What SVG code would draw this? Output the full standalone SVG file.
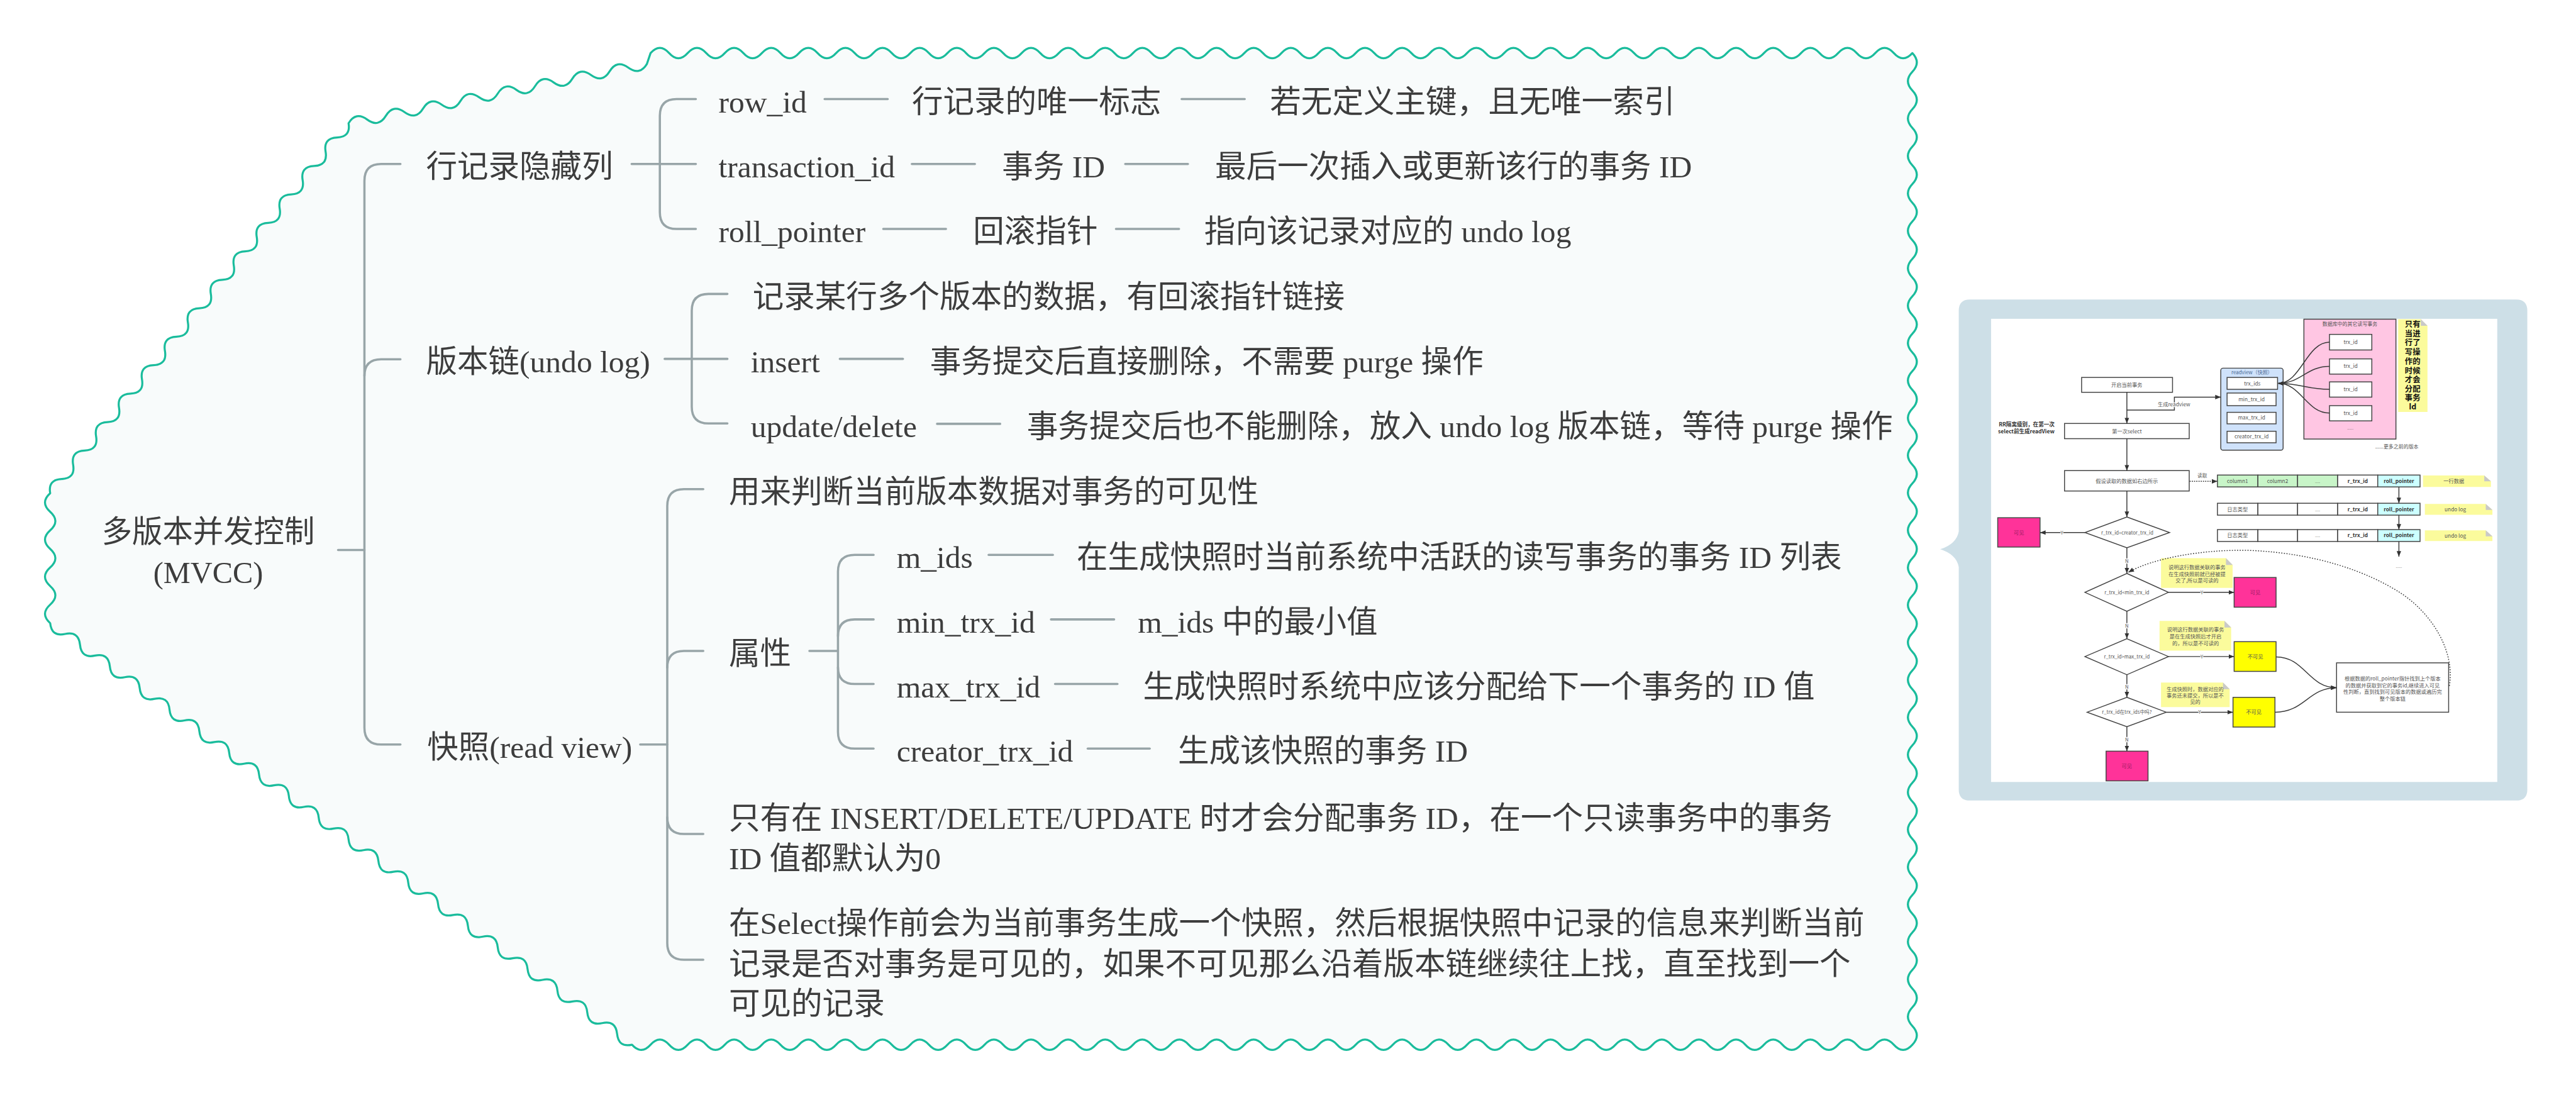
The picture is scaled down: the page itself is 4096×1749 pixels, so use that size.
<svg xmlns="http://www.w3.org/2000/svg" width="4096" height="1749" viewBox="0 0 4096 1749">
<defs>
<style>
.mm{font-family:"Liberation Serif","Noto Sans CJK SC",serif;font-size:84px;fill:#3d3d3d}
.root{font-size:82px}
.cn{fill:none;stroke:#98a5a8;stroke-width:6;stroke-linecap:round}
.fc{font-family:"Noto Sans CJK SC","Liberation Sans",sans-serif;font-size:14px;fill:#555;text-anchor:middle}
.fb{font-weight:bold;fill:#333}
.ln{fill:none;stroke:#3a3a3a;stroke-width:2.5}
.bx{stroke:#444;stroke-width:2.5}
.lab{font-family:"Noto Sans CJK SC",sans-serif;font-size:13px;fill:#555;text-anchor:middle;paint-order:stroke;stroke:#fff;stroke-width:4px}
.note{fill:#fbfb9c}
.fold{fill:#c9c9c9}
</style>
<marker id="ah" viewBox="0 0 10 10" refX="10" refY="5" markerWidth="15" markerHeight="15" markerUnits="userSpaceOnUse" orient="auto"><path d="M0,1 L10,5 L0,9 z" fill="#333"/></marker>
</defs>
<rect width="4096" height="1749" fill="#fff"/>
<g transform="scale(0.5901)">
<g id="frame">
<path fill="#f8fbfb" stroke="#1abc9c" stroke-width="5.5" stroke-linejoin="round" d="M1753,143 q25,-28 50,0 t50,0 t50,0 t50,0 t50,0 t50,0 t50,0 t50,0 t50,0 t50,0 t50,0 t50,0 t50,0 t50,0 t50,0 t50,0 t50,0 t50,0 t50,0 t50,0 t50,0 t50,0 t50,0 t50,0 t50,0 t50,0 t50,0 t50,0 t50,0 t50,0 t50,0 t50,0 t50,0 t50,0 t50,0 t50,0 t50,0 t50,0 t50,0 t50,0 t50,0 t50,0 t50,0 t50,0 t50,0 t50,0 t50,0 t50,0 t50,0 t50,0 t50,0 t50,0 t50,0 t50,0 t50,0 t50,0 t50,0 t50,0 t50,0 t50,0 t50,0 t50,0 t50,0 t50,0 t50,0 t50,0 t50,0 t50,0
q24,25.2075 0,50.415 t0,50.415 t0,50.415 t0,50.415 t0,50.415 t0,50.415 t0,50.415 t0,50.415 t0,50.415 t0,50.415 t0,50.415 t0,50.415 t0,50.415 t0,50.415 t0,50.415 t0,50.415 t0,50.415 t0,50.415 t0,50.415 t0,50.415 t0,50.415 t0,50.415 t0,50.415 t0,50.415 t0,50.415 t0,50.415 t0,50.415 t0,50.415 t0,50.415 t0,50.415 t0,50.415 t0,50.415 t0,50.415 t0,50.415 t0,50.415 t0,50.415 t0,50.415 t0,50.415 t0,50.415 t0,50.415 t0,50.415 t0,50.415 t0,50.415 t0,50.415 t0,50.415 t0,50.415 t0,50.415 t0,50.415 t0,50.415 t0,50.415 t0,50.415 t0,50.415 t0,50.415
q-25,28 -50,0 t-50,0 t-50,0 t-50,0 t-50,0 t-50,0 t-50,0 t-50,0 t-50,0 t-50,0 t-50,0 t-50,0 t-50,0 t-50,0 t-50,0 t-50,0 t-50,0 t-50,0 t-50,0 t-50,0 t-50,0 t-50,0 t-50,0 t-50,0 t-50,0 t-50,0 t-50,0 t-50,0 t-50,0 t-50,0 t-50,0 t-50,0 t-50,0 t-50,0 t-50,0 t-50,0 t-50,0 t-50,0 t-50,0 t-50,0 t-50,0 t-50,0 t-50,0 t-50,0 t-50,0 t-50,0 t-50,0 t-50,0 t-50,0 t-50,0 t-50,0 t-50,0 t-50,0 t-50,0 t-50,0 t-50,0 t-50,0 t-50,0 t-50,0 t-50,0 t-50,0 t-50,0 t-50,0 t-50,0 t-50,0 t-50,0 t-50,0 t-50,0 t-50,0
q-36.53,8.11 -40.2,-29.125 t-40.2,-29.125 t-40.2,-29.125 t-40.2,-29.125 t-40.2,-29.125 t-40.2,-29.125 t-40.2,-29.125 t-40.2,-29.125 t-40.2,-29.125 t-40.2,-29.125 t-40.2,-29.125 t-40.2,-29.125 t-40.2,-29.125 t-40.2,-29.125 t-40.2,-29.125 t-40.2,-29.125 t-40.2,-29.125 t-40.2,-29.125 t-40.2,-29.125 t-40.2,-29.125 t-40.2,-29.125 t-40.2,-29.125 t-40.2,-29.125 t-40.2,-29.125 t-40.2,-29.125 t-40.2,-29.125 t-40.2,-29.125 t-40.2,-29.125 t-40.2,-29.125 t-40.2,-29.125 t-40.2,-29.125 t-40.2,-29.125 t-40.2,-29.125 t-40.2,-29.125 t-40.2,-29.125 t-40.2,-29.125 t-40.2,-29.125 t-40.2,-29.125 t-40.2,-29.125
q-28,-25 0,-50 t0,-50 t0,-50 t0,-50 t0,-50 t0,-50 t0,-50
q-6.34,-36.75 30.923,-38.346 t30.923,-38.346 t30.923,-38.346 t30.923,-38.346 t30.923,-38.346 t30.923,-38.346 t30.923,-38.346 t30.923,-38.346 t30.923,-38.346 t30.923,-38.346 t30.923,-38.346 t30.923,-38.346 t30.923,-38.346 t30.923,-38.346 t30.923,-38.346 t30.923,-38.346 t30.923,-38.346 t30.923,-38.346 t30.923,-38.346 t30.923,-38.346 t30.923,-38.346 t30.923,-38.346 t30.923,-38.346 t30.923,-38.346 t30.923,-38.346 t30.923,-38.346
q19.66,-32.46 50.25,-10 t50.25,-10 t50.25,-10 t50.25,-10 t50.25,-10 t50.25,-10 t50.25,-10 t50.25,-10 t50.25,-10 t50.25,-10 t50.25,-10 t50.25,-10 t50.25,-10 t50.25,-10 t50.25,-10 t50.25,-10 Z"/>
</g>
<g id="connectors">
<path class="cn" d="M911,1482 H982"/>
<path class="cn" d="M1079,442 H1027 Q982,442 982,487 V1961 Q982,2006 1027,2006 H1079"/>
<path class="cn" d="M982,1013 Q982,968 1027,968 H1079"/>
<path class="cn" d="M1702,442 H1875"/>
<path class="cn" d="M1875,267 H1823 Q1778,267 1778,312 V572 Q1778,617 1823,617 H1875"/>
<path class="cn" d="M1791,967 H1960"/>
<path class="cn" d="M1960,792 H1909 Q1864,792 1864,837 V1096 Q1864,1141 1909,1141 H1960"/>
<path class="cn" d="M1725,2006 H1798"/>
<path class="cn" d="M1895,1318 H1843 Q1798,1318 1798,1363 V2541 Q1798,2586 1843,2586 H1895"/>
<path class="cn" d="M1798,1799 Q1798,1754 1843,1754 H1895"/>
<path class="cn" d="M1798,2202 Q1798,2247 1843,2247 H1895"/>
<path class="cn" d="M2181,1754 H2258"/>
<path class="cn" d="M2354,1495 H2303 Q2258,1495 2258,1540 V1972 Q2258,2017 2303,2017 H2354"/>
<path class="cn" d="M2258,1714 Q2258,1669 2303,1669 H2354"/>
<path class="cn" d="M2258,1798 Q2258,1843 2303,1843 H2354"/>
<path class="cn" d="M2222,267 H2392 M3184,267 H3354"/>
<path class="cn" d="M2457,442 H2627 M3032,442 H3201"/>
<path class="cn" d="M2380,617 H2549 M3007,617 H3177"/>
<path class="cn" d="M2263,967 H2433"/>
<path class="cn" d="M2525,1142 H2695"/>
<path class="cn" d="M2664,1495 H2837"/>
<path class="cn" d="M2832,1669 H3002"/>
<path class="cn" d="M2843,1843 H3011"/>
<path class="cn" d="M2931,2017 H3098"/>
</g>
<g id="node-root"><text class="mm root" x="561" y="1461" text-anchor="middle">多版本并发控制</text><text class="mm root" x="561" y="1571" text-anchor="middle">(MVCC)</text></g>
<g id="node-hidden"><text class="mm" x="1148" y="478">行记录隐藏列</text></g>
<g id="node-rowid"><text class="mm" x="1936" y="303">row_id</text></g>
<g id="node-rowid-1"><text class="mm" x="2457" y="303">行记录的唯一标志</text></g>
<g id="node-rowid-2"><text class="mm" x="3422" y="303">若无定义主键，且无唯一索引</text></g>
<g id="node-trxid"><text class="mm" x="1936" y="478">transaction_id</text></g>
<g id="node-trxid-1"><text class="mm" x="2700" y="478">事务 ID</text></g>
<g id="node-trxid-2"><text class="mm" x="3274" y="478">最后一次插入或更新该行的事务 ID</text></g>
<g id="node-rollptr"><text class="mm" x="1936" y="653">roll_pointer</text></g>
<g id="node-rollptr-1"><text class="mm" x="2622" y="653">回滚指针</text></g>
<g id="node-rollptr-2"><text class="mm" x="3245" y="653">指向该记录对应的 undo log</text></g>
<g id="node-chain"><text class="mm" x="1148" y="1004">版本链(undo log)</text></g>
<g id="node-chain-desc"><text class="mm" x="2028" y="828">记录某行多个版本的数据，有回滚指针链接</text></g>
<g id="node-insert"><text class="mm" x="2023" y="1003">insert</text></g>
<g id="node-insert-1"><text class="mm" x="2506" y="1003">事务提交后直接删除，不需要 purge 操作</text></g>
<g id="node-update"><text class="mm" x="2023" y="1178">update/delete</text></g>
<g id="node-update-1"><text class="mm" x="2767" y="1178">事务提交后也不能删除，放入 undo log 版本链，等待 purge 操作</text></g>
<g id="node-readview"><text class="mm" x="1151" y="2042">快照(read view)</text></g>
<g id="node-rv-desc"><text class="mm" x="1964" y="1354">用来判断当前版本数据对事务的可见性</text></g>
<g id="node-attr"><text class="mm" x="1964" y="1790">属性</text></g>
<g id="node-mids"><text class="mm" x="2416" y="1531">m_ids</text></g>
<g id="node-mids-1"><text class="mm" x="2901" y="1531">在生成快照时当前系统中活跃的读写事务的事务 ID 列表</text></g>
<g id="node-min"><text class="mm" x="2416" y="1705">min_trx_id</text></g>
<g id="node-min-1"><text class="mm" x="3066" y="1705">m_ids 中的最小值</text></g>
<g id="node-max"><text class="mm" x="2416" y="1879">max_trx_id</text></g>
<g id="node-max-1"><text class="mm" x="3080" y="1879">生成快照时系统中应该分配给下一个事务的 ID 值</text></g>
<g id="node-creator"><text class="mm" x="2416" y="2053">creator_trx_id</text></g>
<g id="node-creator-1"><text class="mm" x="3174" y="2053">生成该快照的事务 ID</text></g>
<g id="node-only"><text class="mm" x="1964" y="2233">只有在 INSERT/DELETE/UPDATE 时才会分配事务 ID，在一个只读事务中的事务</text><text class="mm" x="1964" y="2342">ID 值都默认为0</text></g>
<g id="node-select"><text class="mm" x="1964" y="2517">在Select操作前会为当前事务生成一个快照，然后根据快照中记录的信息来判断当前</text><text class="mm" x="1964" y="2626">记录是否对事务是可见的，如果不可见那么沿着版本链继续往上找，直至找到一个</text><text class="mm" x="1964" y="2733">可见的记录</text></g>

<g id="node-image">
<path d="M5308,807 H6780 Q6810,807 6810,837 V2127 Q6810,2157 6780,2157 H5308 Q5278,2157 5278,2127 V1528 Q5272,1494 5228,1480 Q5272,1466 5278,1432 V837 Q5278,807 5308,807 Z" fill="#cddfe7"/>
<rect x="5365" y="859" width="1364" height="1248" fill="#fff"/>
<rect class="bx" x="5609" y="1017" width="245" height="40" fill="#fff"/>
<text class="fc" x="5731" y="1042">开启当前事务</text>
<rect class="bx" x="5563" y="1141" width="336" height="41" fill="#fff"/>
<text class="fc" x="5731" y="1167">第一次select</text>
<rect class="bx" x="5563" y="1268" width="336" height="55" fill="#fff"/>
<text class="fc" x="5731" y="1301">假设读取的数据如右边所示</text>
<text class="fc fb" x="5536" y="1149" style="text-anchor:end;font-size:14.5px">RR隔离级别，在第一次</text>
<text class="fc fb" x="5536" y="1168" style="text-anchor:end;font-size:14.5px">select前生成readView</text>
<rect class="bx" x="5984" y="992" width="168" height="221" rx="6" fill="#cfe2fb"/>
<text class="fc" x="6068" y="1008" style="fill:#4b6a94;font-size:13.5px">readview（快照）</text>
<rect class="bx" x="6001" y="1017" width="136" height="32" fill="#fff"/>
<text class="fc" x="6069" y="1038">trx_ids</text>
<rect class="bx" x="6001" y="1059" width="132" height="34" fill="#fff"/>
<text class="fc" x="6067" y="1081">min_trx_id</text>
<rect class="bx" x="6001" y="1111" width="132" height="31" fill="#fff"/>
<text class="fc" x="6067" y="1131">max_trx_id</text>
<rect class="bx" x="6001" y="1162" width="132" height="31" fill="#fff"/>
<text class="fc" x="6067" y="1182">creator_trx_id</text>
<rect class="bx" x="6208" y="860" width="248" height="323" fill="#ffc6e3"/>
<text class="fc" x="6332" y="878" style="font-size:13.5px">数据库中的其它读写事务</text>
<rect class="bx" x="6277" y="901" width="114" height="42" fill="#fff"/>
<text class="fc" x="6334" y="927">trx_id</text>
<rect class="bx" x="6277" y="967" width="114" height="41" fill="#fff"/>
<text class="fc" x="6334" y="992">trx_id</text>
<rect class="bx" x="6277" y="1029" width="114" height="41" fill="#fff"/>
<text class="fc" x="6334" y="1054">trx_id</text>
<rect class="bx" x="6277" y="1093" width="114" height="41" fill="#fff"/>
<text class="fc" x="6334" y="1118">trx_id</text>
<text class="fc" x="6333" y="1158" style="font-size:10px">......</text>
<path class="ln" marker-end="url(#ah)" d="M6277,922 C6215,922 6200,1033 6139,1033"/>
<path class="ln" marker-end="url(#ah)" d="M6277,987 C6215,987 6200,1033 6139,1033"/>
<path class="ln" marker-end="url(#ah)" d="M6277,1049 C6215,1049 6200,1033 6139,1033"/>
<path class="ln" marker-end="url(#ah)" d="M6277,1113 C6215,1113 6200,1033 6139,1033"/>
<path class="note" d="M6462,860 H6523 L6541,878 V1110 H6462 Z"/>
<path class="fold" d="M6523,860 V878 H6541 Z"/>
<g class="fc fb" style="font-size:21px;fill:#111">
<text x="6501" y="882">只有</text><text x="6501" y="907">当进</text><text x="6501" y="931">行了</text><text x="6501" y="956">写操</text><text x="6501" y="981">作的</text><text x="6501" y="1006">时候</text><text x="6501" y="1031">才会</text><text x="6501" y="1056">分配</text><text x="6501" y="1080">事务</text><text x="6501" y="1104">Id</text>
</g>
<text class="fc" x="6400" y="1208" style="text-anchor:start;font-size:13.5px">......更多之前的版本</text>
<g class="bx">
<rect x="5975" y="1280" width="109" height="32" fill="#c8f5c8"/><rect x="6084" y="1280" width="107" height="32" fill="#c8f5c8"/><rect x="6191" y="1280" width="108" height="32" fill="#c8f5c8"/><rect x="6299" y="1280" width="108" height="32" fill="#fff"/><rect x="6407" y="1280" width="114" height="32" fill="#ccffff"/>
<rect x="5975" y="1356" width="109" height="32" fill="#fff"/><rect x="6084" y="1356" width="107" height="32" fill="#fff"/><rect x="6191" y="1356" width="108" height="32" fill="#fff"/><rect x="6299" y="1356" width="108" height="32" fill="#fff"/><rect x="6407" y="1356" width="114" height="32" fill="#ccffff"/>
<rect x="5975" y="1427" width="109" height="32" fill="#fff"/><rect x="6084" y="1427" width="107" height="32" fill="#fff"/><rect x="6191" y="1427" width="108" height="32" fill="#fff"/><rect x="6299" y="1427" width="108" height="32" fill="#fff"/><rect x="6407" y="1427" width="114" height="32" fill="#ccffff"/>
</g>
<text class="fc" x="6029" y="1301">column1</text><text class="fc" x="6137" y="1301">column2</text><text class="fc" x="6245" y="1301" style="font-size:10px">.....</text><text class="fc fb" x="6353" y="1301">r_trx_id</text><text class="fc fb" x="6464" y="1301">roll_pointer</text>
<text class="fc" x="6029" y="1377">日志类型</text><text class="fc" x="6245" y="1377" style="font-size:10px">.....</text><text class="fc fb" x="6353" y="1377">r_trx_id</text><text class="fc fb" x="6464" y="1377">roll_pointer</text>
<text class="fc" x="6029" y="1448">日志类型</text><text class="fc" x="6245" y="1448" style="font-size:10px">.....</text><text class="fc fb" x="6353" y="1448">r_trx_id</text><text class="fc fb" x="6464" y="1448">roll_pointer</text>
<path class="note" d="M6529,1281 H6694 L6712,1297 V1312 H6529 Z"/><path class="fold" d="M6694,1281 V1297 H6712 Z"/>
<text class="fc" x="6612" y="1302">一行数据</text>
<path class="note" d="M6534,1358 H6698 L6716,1374 V1387 H6534 Z"/><path class="fold" d="M6698,1358 V1374 H6716 Z"/>
<text class="fc" x="6616" y="1378">undo log</text>
<path class="note" d="M6534,1429 H6698 L6716,1445 V1458 H6534 Z"/><path class="fold" d="M6698,1429 V1445 H6716 Z"/>
<text class="fc" x="6616" y="1449">undo log</text>
<path class="ln" marker-end="url(#ah)" d="M6464,1312 V1356"/>
<path class="ln" marker-end="url(#ah)" d="M6464,1388 V1427"/>
<path class="ln" marker-end="url(#ah)" d="M6464,1459 V1500"/>
<text class="fc" x="6464" y="1530" style="font-size:10px">......</text>
<g class="bx" fill="#fff">
<polygon points="5731,1393 5846,1435 5731,1476 5618,1435"/>
<polygon points="5731,1545 5843,1596 5731,1647 5618,1596"/>
<polygon points="5731,1721 5843,1769 5731,1818 5618,1769"/>
<polygon points="5731,1879 5837,1919 5731,1958 5624,1919"/>
</g>
<text class="fc" x="5732" y="1440" style="font-size:13px">r_trx_id=creator_trx_id</text>
<text class="fc" x="5731" y="1601" style="font-size:13px">r_trx_id&lt;min_trx_id</text>
<text class="fc" x="5731" y="1774" style="font-size:13px">r_trx_id&gt;max_trx_id</text>
<text class="fc" x="5731" y="1924" style="font-size:13px">r_trx_id在trx_ids中吗?</text>
<rect class="bx" x="5383" y="1395" width="114" height="79" fill="#ff3399"/>
<text class="fc" x="5440" y="1440" style="fill:#9c1c63">可见</text>
<rect class="bx" x="6020" y="1556" width="113" height="80" fill="#ff3399"/>
<text class="fc" x="6077" y="1601" style="fill:#9c1c63">可见</text>
<rect class="bx" x="6020" y="1729" width="113" height="80" fill="#ffff00"/>
<text class="fc" x="6077" y="1774">不可见</text>
<rect class="bx" x="6017" y="1879" width="113" height="80" fill="#ffff00"/>
<text class="fc" x="6073" y="1924">不可见</text>
<rect class="bx" x="5675" y="2024" width="113" height="80" fill="#ff3399"/>
<text class="fc" x="5731" y="2069" style="fill:#9c1c63">可见</text>
<rect class="bx" x="6296" y="1786" width="302" height="133" fill="#fff"/>
<g class="fc" style="font-size:14px">
<text x="6447" y="1833">根据数据的roll_pointer指针找到上个版本</text>
<text x="6447" y="1852">的数据并获取到它的事务id,继续进入可见</text>
<text x="6447" y="1870">性判断，直到找到可见版本的数据或遍历完</text>
<text x="6447" y="1888">整个版本链</text>
</g>
<path class="note" d="M5823,1504 H5998 L6016,1522 V1584 H5823 Z"/><path class="fold" d="M5998,1504 V1522 H6016 Z"/>
<g class="fc"><text x="5920" y="1533">说明这行数据关联的事务</text><text x="5920" y="1552">在生成快照前就已经被提</text><text x="5920" y="1570">交了,所以是可读的</text></g>
<path class="note" d="M5819,1673 H5994 L6012,1691 V1753 H5819 Z"/><path class="fold" d="M5994,1673 V1691 H6012 Z"/>
<g class="fc"><text x="5916" y="1702">说明这行数据关联的事务</text><text x="5916" y="1720">是在生成快照后才开启</text><text x="5916" y="1738">的，所以是不可读的</text></g>
<path class="note" d="M5823,1839 H5990 L6008,1857 V1905 H5823 Z"/><path class="fold" d="M5990,1839 V1857 H6008 Z"/>
<g class="fc"><text x="5915" y="1862">生成快照时，数据对应的</text><text x="5915" y="1879">事务还未提交，所以是不</text><text x="5915" y="1897">见的</text></g>
<path class="ln" marker-end="url(#ah)" d="M5731,1057 V1141"/>
<path class="ln" marker-end="url(#ah)" d="M5731,1105 H5859 V1070 H5984"/>
<text class="lab" x="5858" y="1094" style="font-size:14px">生成readview</text>
<path class="ln" marker-end="url(#ah)" d="M5731,1182 V1268"/>
<path class="ln" marker-end="url(#ah)" stroke-dasharray="3 3" d="M5900,1297 H5975"/>
<text class="lab" x="5934" y="1287">读取</text>
<path class="ln" marker-end="url(#ah)" d="M5731,1323 V1393"/>
<path class="ln" marker-end="url(#ah)" d="M5618,1435 H5497"/>
<text class="lab" x="5556" y="1440">Y</text>
<path class="ln" marker-end="url(#ah)" d="M5731,1476 V1545"/>
<text class="lab" x="5731" y="1517">N</text>
<path class="ln" marker-end="url(#ah)" d="M5843,1596 H6020"/>
<text class="lab" x="5933" y="1601">Y</text>
<path class="ln" marker-end="url(#ah)" d="M5731,1647 V1721"/>
<text class="lab" x="5731" y="1691">N</text>
<path class="ln" marker-end="url(#ah)" d="M5843,1769 H6020"/>
<text class="lab" x="5933" y="1774">Y</text>
<path class="ln" marker-end="url(#ah)" d="M5731,1818 V1879"/>
<text class="lab" x="5731" y="1856">N</text>
<path class="ln" marker-end="url(#ah)" d="M5837,1919 H6017"/>
<text class="lab" x="5927" y="1924">Y</text>
<path class="ln" marker-end="url(#ah)" d="M5731,1958 V2024"/>
<text class="lab" x="5731" y="1998">N</text>
<path class="ln" marker-end="url(#ah)" d="M6133,1770 C6210,1770 6220,1853 6296,1853"/>
<path class="ln" marker-end="url(#ah)" d="M6130,1919 C6210,1919 6220,1853 6296,1853"/>
<path class="ln" marker-end="url(#ah)" stroke-dasharray="3 4" d="M6600,1848 C6615,1760 6560,1660 6472,1600 C6380,1540 6240,1490 6060,1483 C5930,1480 5800,1505 5735,1542"/>
</g>
</g>
</svg>
